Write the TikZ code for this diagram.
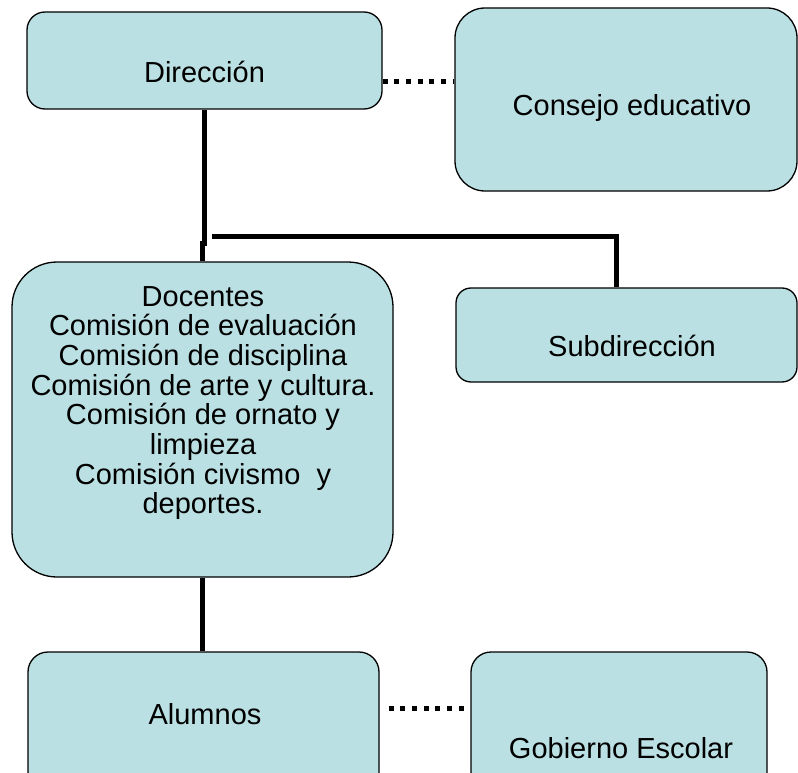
\documentclass[tikz,border=0pt]{standalone}
\usepackage{fontspec}
\setmainfont{Liberation Sans}
\usetikzlibrary{calc}
\definecolor{boxfill}{RGB}{186,224,227}

\begin{document}
\begin{tikzpicture}[x=1pt, y=-1pt,
    unit/.style={draw=black, line width=1.3pt, fill=boxfill, inner sep=0pt},
    lbl/.style={inner sep=0pt, align=center, font=\fontsize{29}{29.7}\selectfont},
    link/.style={line width=5pt},
    dotlink/.style={line width=5pt, dash pattern=on 5pt off 6.7pt}]

\clip (0,0) rectangle (798,773);

\node[unit, rounded corners=18, minimum width=355, minimum height=97] (dir) at (204.5,60.5) {}; % Direccion
\node[unit, rounded corners=30, minimum width=342, minimum height=183] (cons) at (626,99.5) {}; % Consejo
\node[unit, rounded corners=15, minimum width=341, minimum height=94] (sub) at (626.5,335) {}; % Subdireccion
\node[unit, rounded corners=45, minimum width=381, minimum height=315] (doc) at (202.5,419.5) {}; % Docentes
\node[unit, rounded corners=20, minimum width=351, minimum height=140] (alu) at (203.5,722) {}; % Alumnos
\node[unit, rounded corners=20, minimum width=296, minimum height=140] (gob) at (619,722) {}; % Gobierno

\node[lbl] (dirtxt) at (204.5,72) {Dirección};
\node[lbl] (constxt) at (632,108) {Consejo educativo};
\node[lbl] (subtxt) at (632,346) {Subdirección};
\node[lbl] (doctxt) at (203,403) {Docentes\\Comisión de evaluación\\Comisión de disciplina\\Comisión de arte y cultura.\\Comisión de ornato y\\limpieza\\Comisión civismo \ y\\deportes.};
\node[lbl] (alutxt) at (205,714) {Alumnos};
\node[lbl] (gobtxt) at (621,748) {Gobierno Escolar};

\coordinate (tee) at (212,236);

\draw[link] (dir.south) -- ++(0,134) -| (doc.north);
\draw[link] (tee) -| ([xshift=-10.5pt]sub.north);
\draw[link] (doc.south) -- (doc.south |- alu.north);

\draw[dotlink] (dir.east |- 0,82) -- (cons.west |- 0,82);
\draw[dotlink] ([xshift=9pt]alu.east |- 0,708) -- ([xshift=-4pt]gob.west |- 0,708);
\end{tikzpicture}
\end{document}
